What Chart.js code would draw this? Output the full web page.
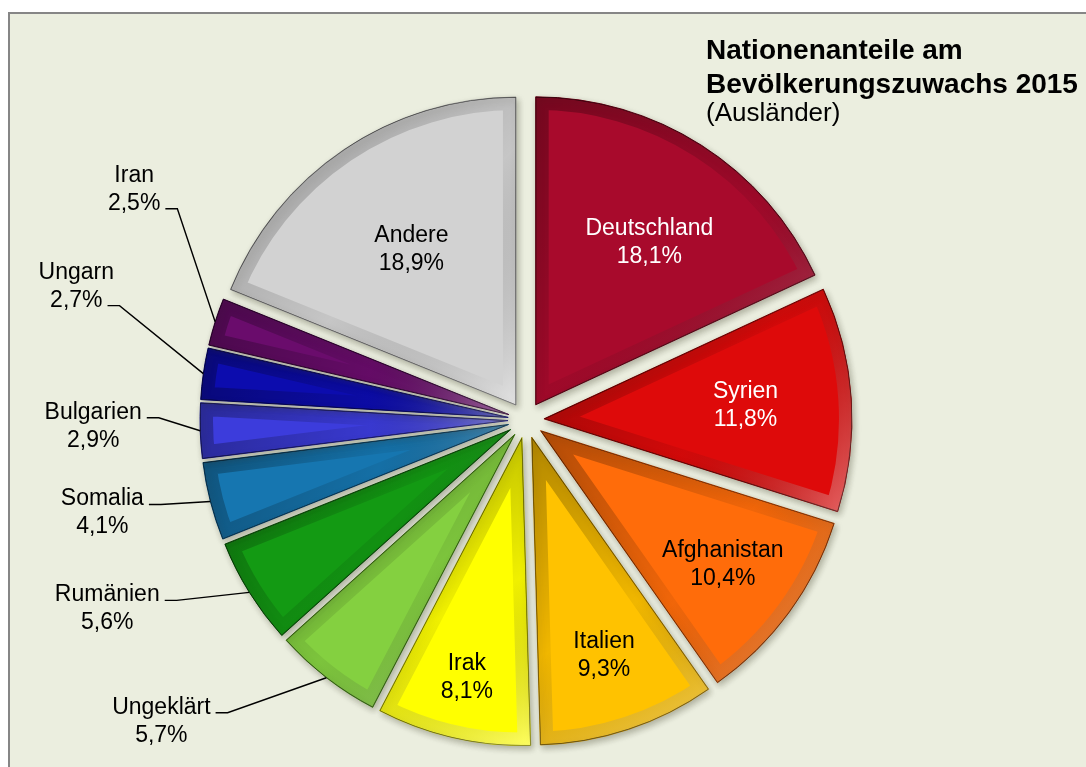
<!DOCTYPE html>
<html>
<head>
<meta charset="utf-8">
<script src="https://cdn.jsdelivr.net/npm/chart.js@4.4.1/dist/chart.umd.min.js"></script>
<style>
  html, body { margin: 0; padding: 0; background: #fff; overflow: hidden; }
  #frame { position: fixed; left: 8px; top: 12px; right: 0; bottom: 0; background: #EBEEDF;
           border-left: 2px solid #868686; border-top: 2px solid #868686; }
  #myChart { position: absolute; left: 0; top: 0; }
  .t { position: absolute; left: 706px; font-family: "Liberation Sans", Arial, sans-serif;
       line-height: 1; white-space: nowrap; color: #000; }
</style>
</head>
<body>
<div id="frame"></div>
<canvas id="myChart" width="1086" height="767"></canvas>
<div class="t" style="top:35.6px; font-size:28px; font-weight:bold;">Nationenanteile am</div>
<div class="t" style="top:69.6px; font-size:28px; font-weight:bold;">Bevölkerungszuwachs 2015</div>
<div class="t" style="top:98.5px; font-size:26px;">(Ausländer)</div>
<script>
const ctx = document.getElementById('myChart');

const laender = ['Deutschland', 'Syrien', 'Afghanistan', 'Italien', 'Irak', 'Ungeklärt',
                 'Rumänien', 'Somalia', 'Bulgarien', 'Ungarn', 'Iran', 'Andere'];
const anteile = [18.1, 11.8, 10.4, 9.3, 8.1, 5.7, 5.6, 4.1, 2.9, 2.7, 2.5, 18.9];

const farben = ['#A80A2C', '#DE0A0A', '#FF6C0A', '#FFC200', '#FFFF00', '#84D040',
                '#139A13', '#1676B0', '#3C3CDC', '#0C0CAE', '#6A0C6C', '#D2D2D2'];
const randFarben = ['#6A0418', '#8A0404', '#B04000', '#B08000', '#A8A800', '#4A8A1A',
                    '#0A5A0A', '#0A4670', '#20208A', '#060670', '#3A043C', '#8A8A8A'];

const FONT = '"Liberation Sans", Arial, sans-serif';
const fmt = v => v.toFixed(1).replace('.', ',') + '%';

// pull every slice 18px out of the centre
const explode = {
    id: 'explode',
    afterDatasetsUpdate(chart, args, opts) {
        chart.getDatasetMeta(0).data.forEach(arc => {
            const mid = (arc.startAngle + arc.endAngle) / 2;
            arc.x += Math.cos(mid) * opts.distance;
            arc.y += Math.sin(mid) * opts.distance;
        });
    }
};

// soft shadow under the slices, bevel band on top of them
const bevel = {
    id: 'bevel',
    beforeDatasetsDraw(chart) {
        const c = chart.ctx;
        c.save();
        c.shadowColor = 'rgba(60,60,40,0.35)';
        c.shadowBlur = 6;
        c.shadowOffsetX = 2;
        c.shadowOffsetY = 3;
    },
    afterDatasetsDraw(chart) {
        const c = chart.ctx;
        c.restore();
        chart.getDatasetMeta(0).data.forEach(arc => {
            const { x, y, startAngle, endAngle, outerRadius } = arc;
            const xs = [x, x + Math.cos(startAngle) * outerRadius, x + Math.cos(endAngle) * outerRadius];
            const ys = [y, y + Math.sin(startAngle) * outerRadius, y + Math.sin(endAngle) * outerRadius];
            for (let k = 0; k < 4; k++) {
                const a = -Math.PI + k * Math.PI / 2;
                for (const b of [a, a + 2 * Math.PI]) {
                    if (b > startAngle && b < endAngle) {
                        xs.push(x + Math.cos(b) * outerRadius);
                        ys.push(y + Math.sin(b) * outerRadius);
                    }
                }
            }
            const x0 = Math.min(...xs), x1 = Math.max(...xs), y0 = Math.min(...ys), y1 = Math.max(...ys);
            c.save();
            c.beginPath();
            c.moveTo(x, y);
            c.arc(x, y, outerRadius, startAngle, endAngle);
            c.closePath();
            c.clip();
            const g = c.createLinearGradient(x0, y0, x1, y1);
            g.addColorStop(0, 'rgba(0,0,0,0.30)');
            g.addColorStop(0.55, 'rgba(0,0,0,0.06)');
            g.addColorStop(1, 'rgba(255,255,255,0.38)');
            c.lineJoin = 'round';
            c.lineWidth = 26;
            c.strokeStyle = g;
            c.stroke();
            c.lineWidth = 1.2;
            c.strokeStyle = 'rgba(0,0,0,0.45)';
            c.stroke();
            c.restore();
        });
    }
};

// data labels: inside for the big slices, outside with leader lines for the small ones
const sliceLabels = {
    id: 'sliceLabels',
    afterDatasetsDraw(chart, args, opts) {
        const c = chart.ctx;
        const labels = chart.data.labels;
        const values = chart.data.datasets[0].data;
        c.save();
        c.font = opts.size + 'px ' + FONT;
        c.textAlign = 'center';
        chart.getDatasetMeta(0).data.forEach((arc, i) => {
            const name = labels[i];
            const lines = [name, fmt(values[i])];
            const mid = (arc.startAngle + arc.endAngle) / 2;
            const dx = Math.cos(mid), dy = Math.sin(mid);
            if (opts.inside[name] !== undefined) {
                const [d, turn] = opts.inside[name];
                const a = mid + turn * Math.PI / 180;
                const cx = arc.x + Math.cos(a) * d, cy = arc.y + Math.sin(a) * d;
                c.fillStyle = opts.white.includes(name) ? '#fff' : '#000';
                c.textBaseline = 'middle';
                c.fillText(lines[0], cx, cy - opts.lineGap / 2);
                c.fillText(lines[1], cx, cy + opts.lineGap / 2);
            } else if (opts.outside[name]) {
                const [ox, oy, row] = opts.outside[name];
                const ax = arc.x + dx * arc.outerRadius, ay = arc.y + dy * arc.outerRadius;
                const tx = ax + ox, b1 = ay + oy;
                c.fillStyle = '#000';
                c.textBaseline = 'alphabetic';
                c.fillText(lines[0], tx, b1);
                c.fillText(lines[1], tx, b1 + opts.lineGap);
                const ly = b1 + row * opts.lineGap - 1;
                const lx = tx + c.measureText(lines[row]).width / 2 + 5;
                c.beginPath();
                c.moveTo(lx, ly);
                c.lineTo(lx + 12, ly);
                c.lineTo(ax, ay);
                c.lineWidth = 1.4;
                c.strokeStyle = '#000';
                c.stroke();
            }
        });
        c.restore();
    }
};

new Chart(ctx, {
    type: 'pie',
    data: {
        labels: laender,
        datasets: [{
            data: anteile,
            backgroundColor: farben,
            borderColor: randFarben,
            borderWidth: 1,
            radius: 308
        }]
    },
    options: {
        responsive: false,
        animation: false,
        events: [],
        layout: { padding: { left: 0, right: 34, top: 73, bottom: 0 } },
        plugins: {
            legend: { display: false },
            tooltip: { enabled: false },
            explode: { distance: 18 },
            sliceLabels: {
                size: 23,
                lineGap: 28,
                white: ['Deutschland', 'Syrien'],
                inside: {
                    Deutschland: [198, 2.5], Syrien: [202, 0], Afghanistan: [226, 0],
                    Italien: [230, 0], Irak: [246, 0], Andere: [187, 0]
                },
                outside: {
                    'Ungeklärt': [-165, 36, 0],
                    'Rumänien': [-142, 9, 0],
                    'Somalia': [-108, 4, 0],
                    'Bulgarien': [-107, -12, 0],
                    'Ungarn': [-127, -95, 1],
                    'Iran': [-81, -140, 1]
                }
            }
        }
    },
    plugins: [explode, bevel, sliceLabels]
});
</script>
</body>
</html>
